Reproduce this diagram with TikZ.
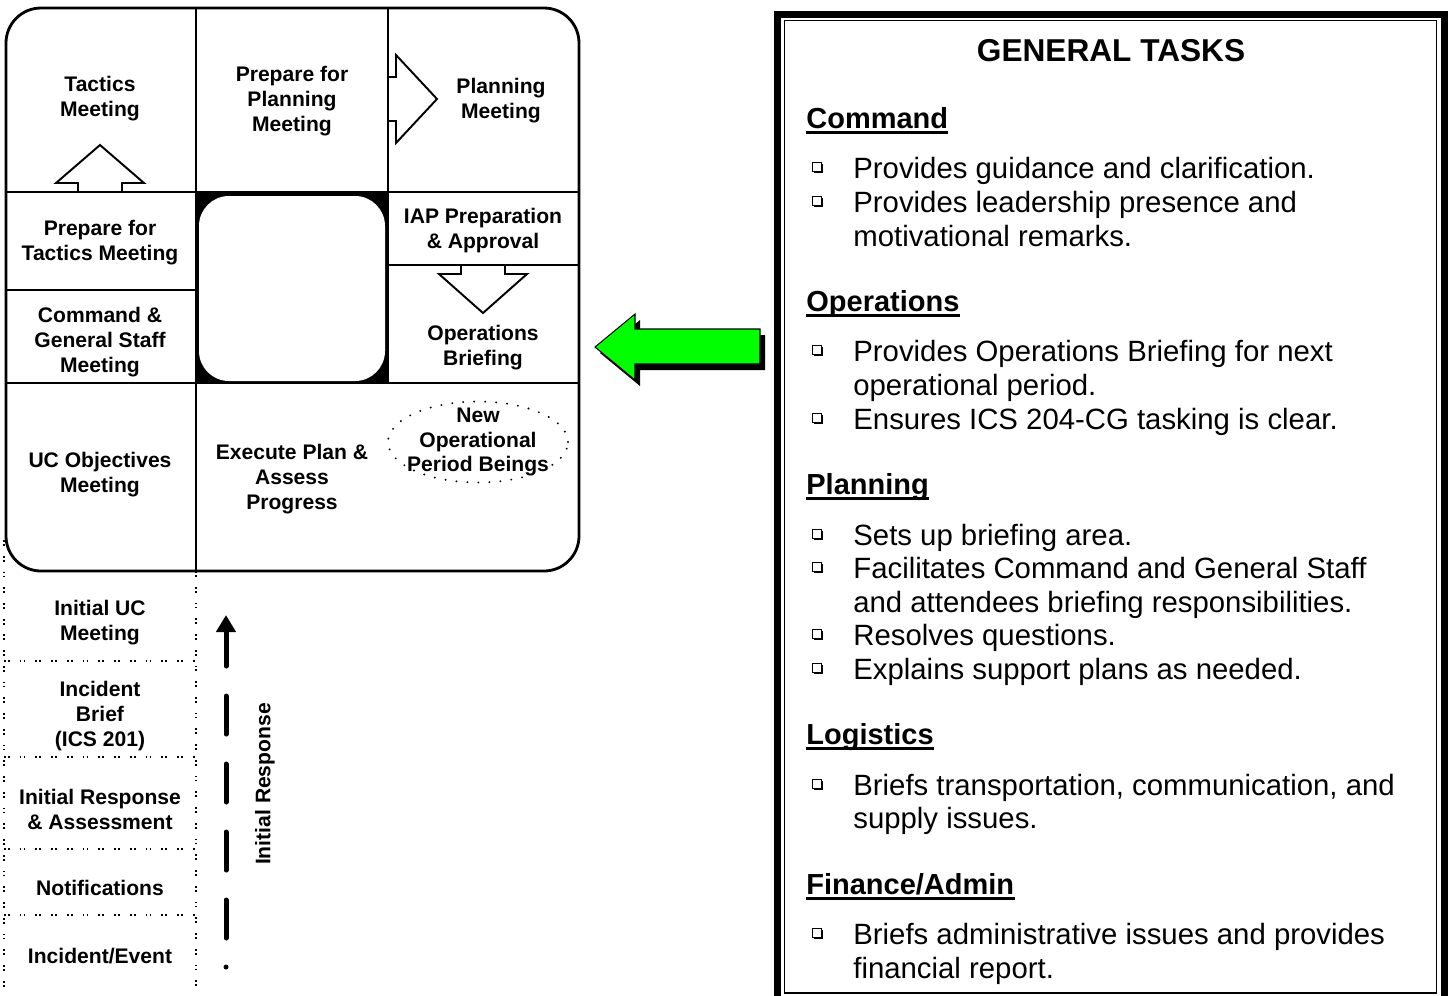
\documentclass[tikz,border=0pt]{standalone}
\usepackage{fontspec}
\setmainfont{Liberation Sans}
\usetikzlibrary{arrows.meta,shadows,shapes.geometric}
\definecolor{arrowgreen}{RGB}{0,255,0}

\begin{document}
\begin{tikzpicture}[x=0.02cm, y=-0.02cm,
    grid/.style={line width=1.6pt},
    blockarrow/.style={draw, fill=white, line width=1.1pt},
    cell/.style={align=center, inner sep=0, font=\bfseries\fontsize{12}{14.2}\selectfont},
    newstep/.style={cell, ellipse, draw, line width=1.2pt, line cap=round, dash pattern=on 0cm off 0.22cm,
      inner xsep=-0.2cm, inner ysep=-0.16cm, minimum width=3.6cm, minimum height=1.62cm},
    sepline/.style={line width=1.2pt, dash pattern=on 0.035cm off 0.045cm on 0.035cm off 0.2cm},
    irarrow/.style={line width=0.1cm, line cap=round, -{Triangle[length=0.34cm,width=0.38cm]},
      dash pattern=on 0cm off 0.58cm on 0.76cm off 0.6cm on 0.76cm off 0.6cm on 0.76cm off 0.6cm on 0.76cm off 0.6cm on 0.76cm},
    title/.style={anchor=base, inner sep=0, font=\bfseries\fontsize{18}{21}\selectfont},
    head/.style={anchor=base west, inner sep=0, font=\bfseries\fontsize{16.5}{20}\selectfont},
    task/.style={anchor=base west, inner sep=0, font=\fontsize{16.7}{20}\selectfont},
    tickbox/.style={draw, fill=white, inner sep=0, minimum size=0.18cm, line width=0.55pt,
      drop shadow={shadow xshift=0.9pt, shadow yshift=-0.9pt, opacity=1, fill=black}},
    uline/.style={line width=0.06cm}]
  \useasboundingbox (0,0) rectangle (1452,995);
  \fill (196,192) rectangle (388,383);
  \fill[white, rounded corners=0.6cm] (199,196) rectangle (385,381);
  \draw[blockarrow] (78,192) -- (78,183) -- (56,183) -- (100,145) -- (144,183) -- (122,183) -- (122,192);
  \draw[blockarrow] (388,77) -- (396,77) -- (396,55) -- (437,99) -- (396,143) -- (396,121) -- (388,121);
  \draw[blockarrow] (461,265) -- (461,274) -- (439,274) -- (483,313) -- (527,274) -- (505,274) -- (505,265);
  \draw[grid] (196,8) -- (196,571);
  \draw[grid] (388,8) -- (388,383);
  \draw[grid] (6,192) -- (579,192);
  \draw[grid] (6,290) -- (196,290);
  \draw[grid] (388,265) -- (579,265);
  \draw[grid] (6,383) -- (579,383);
  \draw[grid, rounded corners=0.7cm] (6,8) rectangle (579,571);
  \node[cell] (tactics) at (100,99) {Tactics\\Meeting};
  \node[cell] (prepplan) at (292,101) {Prepare for\\Planning\\Meeting};
  \node[cell] (planmeet) at (501,101) {Planning\\Meeting};
  \node[cell] (preptac) at (100,243) {Prepare for\\Tactics Meeting};
  \node[cell] (cgsm) at (100,342) {Command \&\\General Staff\\Meeting};
  \node[cell] (iap) at (483,231) {IAP Preparation\\\& Approval};
  \node[cell] (opsbrief) at (483,348) {Operations\\Briefing};
  \node[cell] (ucobj) at (100,475) {UC Objectives\\Meeting};
  \node[cell] (execplan) at (292,479) {Execute Plan \&\\Assess\\Progress};
  \node[newstep] (newop) at (478,442) {New\\Operational\\Period Beings};
  \draw[sepline] (4,540) -- (4,995);
  \draw[sepline] (196,571) -- (196,995);
  \draw[sepline] (4,661) -- (196,661);
  \draw[sepline] (4,757) -- (196,757);
  \draw[sepline] (4,849) -- (196,849);
  \draw[sepline] (4,915) -- (196,915);
  \node[cell] (inituc) at (100,623) {Initial UC\\Meeting};
  \node[cell] (incbrief) at (100,716) {Incident\\Brief\\(ICS 201)};
  \node[cell] (initresp) at (100,809) {Initial Response\\\& Assessment};
  \node[cell] (notif) at (100,888) {Notifications};
  \node[cell] (incevent) at (100,956) {Incident/Event};
  \node[cell, rotate=90] (irlabel) at (265,784) {Initial Response};
  \coordinate (irstart) at (226,967);
  \coordinate (irend) at (226,615);
  \draw[irarrow] (irstart) -- (irend);
  \draw[fill=arrowgreen, line width=0.6pt, drop shadow={shadow xshift=0.1cm, shadow yshift=-0.12cm, opacity=1, fill=black}]
    (760,329) -- (635,329) -- (635,314) -- (595,347) -- (635,380) -- (635,364) -- (760,364) -- cycle;
  \draw[line width=0.14cm] (777.5,1000) -- (777.5,14) -- (1444,14) -- (1444,1000);
  \draw[line width=0.03cm] (784.5,20.5) rectangle (1436.5,993);
  \node[title] (gentasks) at (1111,61) {GENERAL TASKS};
  \node[head] (cmd) at (806,128) {Command};
  \draw[uline] ([yshift=-0.08cm]cmd.base west) -- ([yshift=-0.08cm]cmd.base east);
  \node[tickbox] (cb1) at (817,167) {};
  \node[task] (ct1) at (853,178) {Provides guidance and clarification.};
  \node[tickbox] (cb2) at (817,201) {};
  \node[task] (ct2) at (853,212) {Provides leadership presence and};
  \node[task] (ct3) at (853,246) {motivational remarks.};
  \node[head] (ops) at (806,311) {Operations};
  \draw[uline] ([yshift=-0.08cm]ops.base west) -- ([yshift=-0.08cm]ops.base east);
  \node[tickbox] (ob1) at (817,350) {};
  \node[task] (ot1) at (853,361) {Provides Operations Briefing for next};
  \node[task] (ot2) at (853,395) {operational period.};
  \node[tickbox] (ob2) at (817,418) {};
  \node[task] (ot3) at (853,429) {Ensures ICS 204-CG tasking is clear.};
  \node[head] (plan) at (806,494) {Planning};
  \draw[uline] ([yshift=-0.08cm]plan.base west) -- ([yshift=-0.08cm]plan.base east);
  \node[tickbox] (pb1) at (817,534) {};
  \node[task] (pt1) at (853,545) {Sets up briefing area.};
  \node[tickbox] (pb2) at (817,567) {};
  \node[task] (pt2) at (853,578) {Facilitates Command and General Staff};
  \node[task] (pt3) at (853,612) {and attendees briefing responsibilities.};
  \node[tickbox] (pb3) at (817,634) {};
  \node[task] (pt4) at (853,645) {Resolves questions.};
  \node[tickbox] (pb4) at (817,668) {};
  \node[task] (pt5) at (853,679) {Explains support plans as needed.};
  \node[head] (logi) at (806,744) {Logistics};
  \draw[uline] ([yshift=-0.08cm]logi.base west) -- ([yshift=-0.08cm]logi.base east);
  \node[tickbox] (lb1) at (817,784) {};
  \node[task] (lt1) at (853,795) {Briefs transportation, communication, and};
  \node[task] (lt2) at (853,828) {supply issues.};
  \node[head] (fin) at (806,894) {Finance/Admin};
  \draw[uline] ([yshift=-0.08cm]fin.base west) -- ([yshift=-0.08cm]fin.base east);
  \node[tickbox] (fb1) at (817,933) {};
  \node[task] (ft1) at (853,944) {Briefs administrative issues and provides};
  \node[task] (ft2) at (853,978) {financial report.};
\end{tikzpicture}
\end{document}
